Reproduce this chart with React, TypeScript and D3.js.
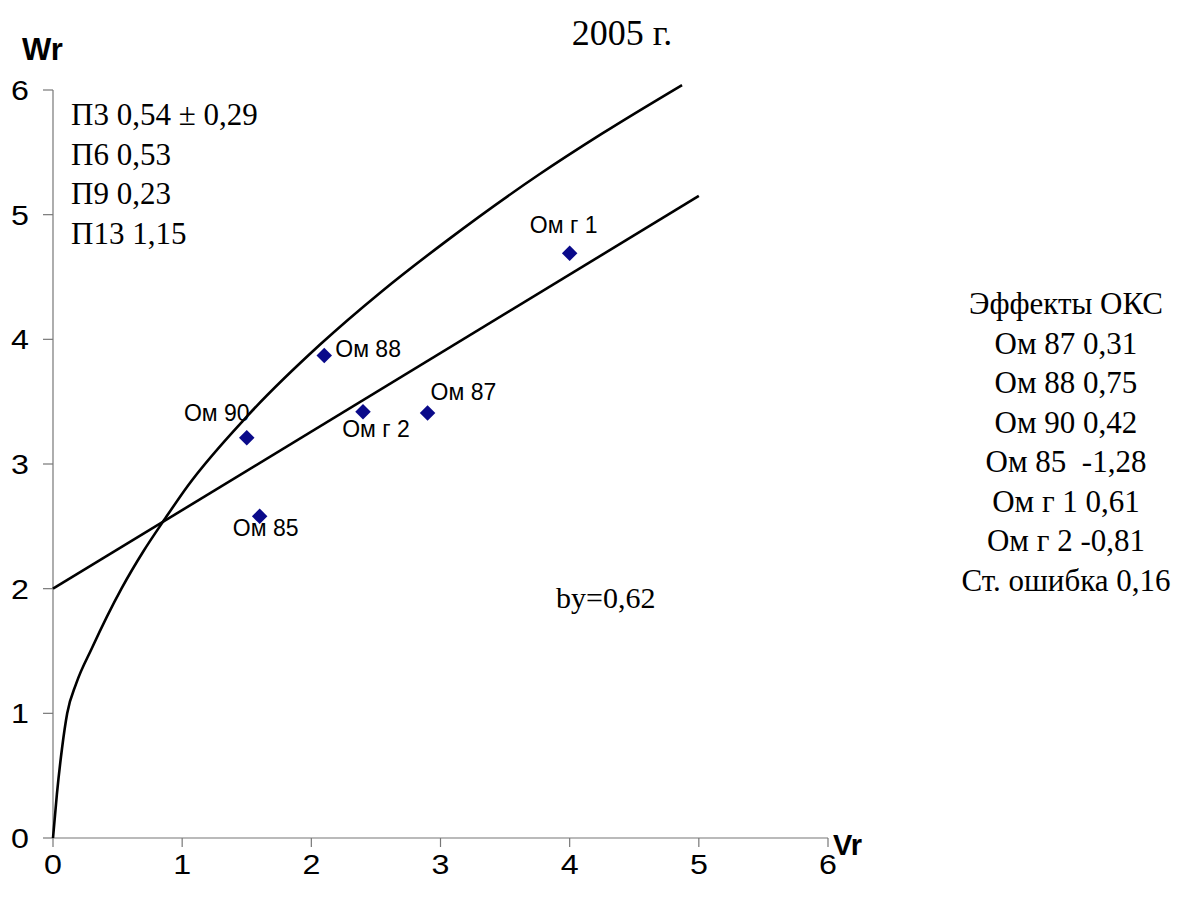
import React from 'react';
import * as d3 from 'd3';

// observed points (Vr, Wr)
const pointNames = ['Ом 90', 'Ом 85', 'Ом 88', 'Ом г 2', 'Ом 87', 'Ом г 1'];
const pointVr = [1.5, 1.6, 2.1, 2.4, 2.9, 4.0];
const pointWr = [3.21, 2.58, 3.87, 3.42, 3.41, 4.69];

// curve
const curveVr = [0, 0.03, 0.07, 0.11, 0.18, 0.3, 0.53, 0.7, 0.86, 1.04, 1.5, 2.07, 2.54, 3.06, 3.76, 4.25, 4.87];
const curveWr = [0, 0.35, 0.72, 1.0, 1.24, 1.52, 2.0, 2.3, 2.55, 2.82, 3.38, 3.96, 4.38, 4.8, 5.32, 5.65, 6.04];

// regression line (by=0,62)
const lineVr = [0, 5];
const lineWr = [2.0, 5.15];

const xTicks = [0, 1, 2, 3, 4, 5, 6];
const yTicks = [0, 1, 2, 3, 4, 5, 6];

const leftNotes = ['П3 0,54 ± 0,29', 'П6 0,53', 'П9 0,23', 'П13 1,15'];
const rightNotes = ['Эффекты ОКС', 'Ом 87 0,31', 'Ом 88 0,75', 'Ом 90 0,42', 'Ом 85  -1,28', 'Ом г 1 0,61', 'Ом г 2 -0,81', 'Ст. ошибка 0,16'];

// label placement next to each marker
const labelPos: Record<string, { dx: number; dy: number; anchor: string }> = {
  'Ом 90': { dx: -30, dy: -17, anchor: 'middle' },
  'Ом 85': { dx: 6, dy: 20, anchor: 'middle' },
  'Ом 88': { dx: 11, dy: 1, anchor: 'start' },
  'Ом г 2': { dx: 13, dy: 25, anchor: 'middle' },
  'Ом 87': { dx: 3, dy: -13, anchor: 'start' },
  'Ом г 1': { dx: -6, dy: -20, anchor: 'middle' },
};

const sans = '"Liberation Sans", Arial, sans-serif';
const serif = '"Liberation Serif", "Times New Roman", serif';

export default function App() {
  const x = d3.scaleLinear().domain([0, 6]).range([53, 828]);
  const y = d3.scaleLinear().domain([0, 6]).range([838, 90]);

  const curve = d3.line<number>()
    .x((d, i) => x(curveVr[i]))
    .y(d => y(d))
    .curve(d3.curveMonotoneX);
  const straight = d3.line<number>()
    .x((d, i) => x(lineVr[i]))
    .y(d => y(d));
  const diamond = d3.symbol().type(d3.symbolSquare).size(120)();

  return (
    <svg width={1179} height={897} style={{ position: 'absolute', left: 0, top: 0, background: '#fff' }}>
      {/* axes */}
      <line x1={x(0)} x2={x(0)} y1={y(6)} y2={y(0)} stroke="#777" strokeWidth={1.2} />
      <line x1={x(0)} x2={x(6)} y1={y(0)} y2={y(0)} stroke="#777" strokeWidth={1.2} />
      {yTicks.map(t => (
        <g key={'y' + t}>
          <line x1={x(0) - 10} x2={x(0)} y1={y(t)} y2={y(t)} stroke="#777" strokeWidth={1.2} />
          <text transform={`translate(29,${y(t) + 10}) scale(1.15,1)`} textAnchor="end" fontFamily={sans} fontSize={28}>{t}</text>
        </g>
      ))}
      {xTicks.map(t => (
        <g key={'x' + t}>
          <line x1={x(t)} x2={x(t)} y1={y(0)} y2={y(0) + 9} stroke="#777" strokeWidth={1.2} />
          <text transform={`translate(${x(t)},874) scale(1.15,1)`} textAnchor="middle" fontFamily={sans} fontSize={28}>{t}</text>
        </g>
      ))}
      <text x={22} y={60} fontFamily={sans} fontWeight="bold" fontSize={31}>Wr</text>
      <text x={833} y={855} fontFamily={sans} fontWeight="bold" fontSize={29}>Vr</text>

      {/* title */}
      <text x={622} y={45} textAnchor="middle" fontFamily={serif} fontSize={36}>2005 г.</text>

      {/* fitted lines */}
      <path d={curve(curveWr) || ''} fill="none" stroke="#000" strokeWidth={2.6} />
      <path d={straight(lineWr) || ''} fill="none" stroke="#000" strokeWidth={2.6} />

      {/* points */}
      {pointNames.map((n, i) => {
        const px = x(pointVr[i]);
        const py = y(pointWr[i]);
        const lp = labelPos[n];
        return (
          <g key={n}>
            <path d={diamond || ''} transform={`translate(${px},${py}) rotate(45)`} fill="#0a0a8a" />
            <text x={px + lp.dx} y={py + lp.dy} textAnchor={lp.anchor} fontFamily={sans} fontSize={23}>{n}</text>
          </g>
        );
      })}

      {/* notes */}
      {leftNotes.map((s, i) => (
        <text key={s} x={71} y={125 + i * 39.5} fontFamily={serif} fontSize={31}>{s}</text>
      ))}
      <text x={556} y={608} fontFamily={serif} fontSize={30}>by=0,62</text>
      {rightNotes.map((s, i) => (
        <text key={s} x={1066} y={314 + i * 39.5} textAnchor="middle" fontFamily={serif} fontSize={31} style={{ whiteSpace: 'pre' }}>{s}</text>
      ))}
    </svg>
  );
}
